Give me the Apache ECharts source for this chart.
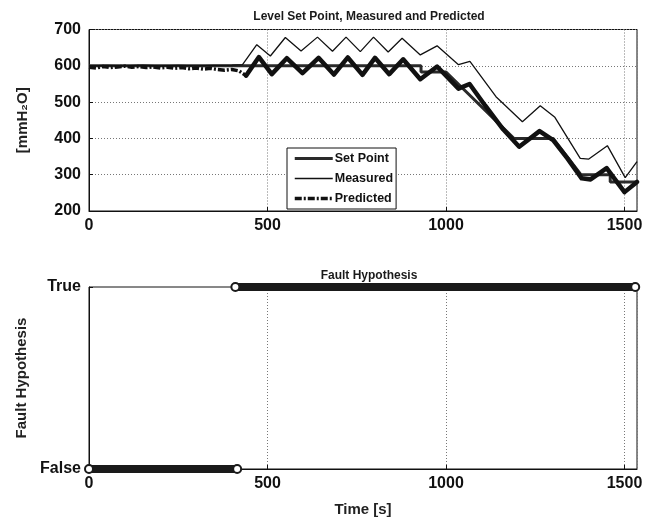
<!DOCTYPE html>
<html><head><meta charset="utf-8">
<script src="https://cdn.jsdelivr.net/npm/echarts@6/dist/echarts.min.js"></script>
<style>html,body{margin:0;padding:0;background:#fff}#c{width:661px;height:523px}</style>
</head><body><div id="c"></div>
<script>
// ---- data ----
const xTicks = [0, 500, 1000, 1500];
const levelTicks = [200, 300, 400, 500, 600, 700];
const faultTickLabels = ['False', 'True'];

const setPointT = [0, 930, 930, 1000, 1190, 1300, 1378, 1460, 1460, 1535];
const setPointV = [600, 600, 583, 583, 400, 400, 300, 300, 280, 280];

const measuredT = [0, 50, 100, 150, 200, 250, 300, 350, 400, 430, 470, 508, 550, 594, 640, 682, 720, 760, 797, 838, 877, 928, 975, 1035, 1067, 1140, 1214, 1264, 1305, 1376, 1400, 1452, 1502, 1535];
const measuredV = [600, 601, 600, 602, 600, 601, 600, 601, 602, 603, 658, 627, 678, 641, 679, 640, 679, 639, 679, 638, 676, 630, 655, 603, 612, 515, 446, 490, 458, 345, 343, 380, 292, 336];

const predictedT = [0, 20, 40, 60, 80, 100, 120, 140, 160, 180, 200, 220, 240, 260, 280, 300, 320, 340, 360, 380, 400, 420, 440, 476, 512, 554, 598, 643, 686, 725, 766, 801, 841, 880, 928, 975, 1035, 1066, 1110, 1160, 1205, 1262, 1300, 1340, 1380, 1405, 1450, 1500, 1535];
const predictedV = [596, 594, 598, 595, 597, 599, 596, 598, 595, 597, 594, 596, 593, 595, 592, 594, 591, 593, 590, 588, 590, 586, 573, 624, 577, 621, 580, 622, 576, 623, 575, 622, 577, 618, 563, 598, 537, 550, 490, 425, 377, 420, 395, 345, 290, 287, 318, 252, 280];

const faultFalseT = [0, 415];
const faultFalseV = [0, 0];
const faultTrueT = [410, 1530];
const faultTrueV = [1, 1];

const xMax = 1535;

// ---- build ----
const zip = (a, b) => a.map((t, i) => [t, b[i]]);
const predAll = zip(predictedT, predictedV);
const splitIdx = predictedT.indexOf(440);
const predEarly = predAll.slice(0, splitIdx + 1);   // drawn dash-dot
const predLate = predAll.slice(splitIdx);            // dense part, appears solid in reference

const FONT = 'Liberation Sans, Arial, Helvetica, sans-serif';
const lbl = {color: '#111', fontSize: 16, fontWeight: 'bold', fontFamily: FONT};
const nameStyle = {color: '#222', fontSize: 15, fontWeight: 'bold', fontFamily: FONT};
const gridLine = {show: true, lineStyle: {color: '#777', type: [1, 2], width: 1}};
const fmtX = v => String(v);

const chart = echarts.init(document.getElementById('c'), null, {renderer: 'canvas'});
chart.setOption({
  animation: false,
  backgroundColor: '#fff',
  title: [
    {text: 'Level Set Point, Measured and Predicted', left: 364, top: 6, textAlign: 'center',
     textStyle: {color: '#1a1a1a', fontSize: 12, fontWeight: 'bold', fontFamily: FONT}},
    {text: 'Fault Hypothesis', left: 364, top: 265, textAlign: 'center',
     textStyle: {color: '#1a1a1a', fontSize: 12, fontWeight: 'bold', fontFamily: FONT}}
  ],
  legend: {
    data: ['Set Point', 'Measured', 'Predicted'],
    orient: 'vertical', left: 287, top: 148,
    backgroundColor: '#fff', borderColor: '#111', borderWidth: 1,
    padding: [4, 3, 4, 6], itemWidth: 38, itemHeight: 10, itemGap: 7,
    itemStyle: {color: 'rgba(0,0,0,0)', borderColor: 'rgba(0,0,0,0)', borderWidth: 0},
    lineStyle: {width: 'inherit', type: 'inherit', color: 'inherit'},
    textStyle: {color: '#111', fontSize: 12.5, fontWeight: 'bold', fontFamily: FONT, padding: [0, 0, 0, -3]}
  },
  grid: [
    {left: 89, top: 29.5, width: 548, height: 181.5, show: true, borderColor: '#111', borderWidth: 1, backgroundColor: 'transparent'},
    {left: 89, top: 287, width: 548, height: 182, show: true, borderColor: '#111', borderWidth: 1, backgroundColor: 'transparent'}
  ],
  xAxis: [
    {type: 'value', gridIndex: 0, min: 0, max: xMax, interval: 500,
     axisLine: {lineStyle: {color: '#111'}}, axisTick: {inside: true, length: 4, lineStyle: {color: '#111'}},
     axisLabel: Object.assign({margin: 7, showMaxLabel: false, formatter: fmtX}, lbl),
     splitLine: gridLine},
    {type: 'value', gridIndex: 1, min: 0, max: xMax, interval: 500,
     axisLine: {lineStyle: {color: '#111'}}, axisTick: {inside: true, length: 4, lineStyle: {color: '#111'}},
     axisLabel: Object.assign({margin: 7, showMaxLabel: false, formatter: fmtX}, lbl),
     splitLine: gridLine,
     name: 'Time [s]', nameLocation: 'middle', nameGap: 33, nameTextStyle: nameStyle}
  ],
  yAxis: [
    {type: 'value', gridIndex: 0, min: levelTicks[0], max: levelTicks[levelTicks.length - 1], interval: 100,
     axisLine: {lineStyle: {color: '#111'}}, axisTick: {inside: true, length: 4, lineStyle: {color: '#111'}},
     axisLabel: Object.assign({margin: 8}, lbl),
     splitLine: gridLine,
     name: '[mmH₂O]', nameLocation: 'middle', nameGap: 59, nameRotate: 90, nameTextStyle: nameStyle},
    {type: 'value', gridIndex: 1, min: 0, max: 1, interval: 1,
     axisLine: {lineStyle: {color: '#111'}}, axisTick: {inside: true, length: 4, lineStyle: {color: '#111'}},
     axisLabel: Object.assign({margin: 8, formatter: v => faultTickLabels[v]}, lbl),
     splitLine: {show: false},
     name: 'Fault Hypothesis', nameLocation: 'middle', nameGap: 59, nameRotate: 90, nameTextStyle: nameStyle}
  ],
  series: [
    {name: 'Set Point', type: 'line', xAxisIndex: 0, yAxisIndex: 0, data: zip(setPointT, setPointV),
     symbol: 'none', lineStyle: {color: '#2a2a2a', width: 3}, itemStyle: {color: '#2a2a2a'}, z: 2},
    {name: 'Measured', type: 'line', xAxisIndex: 0, yAxisIndex: 0, data: zip(measuredT, measuredV),
     symbol: 'none', lineStyle: {color: '#111', width: 1.3}, itemStyle: {color: '#111'}, z: 3},
    {name: 'Predicted', type: 'line', xAxisIndex: 0, yAxisIndex: 0, data: predEarly,
     symbol: 'none', lineStyle: {color: '#111', width: 3.5, type: [7, 2, 2, 2]}, itemStyle: {color: '#111'}, z: 4},
    {type: 'line', xAxisIndex: 0, yAxisIndex: 0, data: predLate,
     symbol: 'none', lineStyle: {color: '#111', width: 4.5, join: 'round', cap: 'round'}, z: 4},
    {type: 'line', xAxisIndex: 1, yAxisIndex: 1, data: zip(faultFalseT, faultFalseV),
     symbol: 'emptyCircle', symbolSize: 8, showAllSymbol: true,
     lineStyle: {color: '#1a1a1a', width: 8}, itemStyle: {color: '#1a1a1a', borderWidth: 1.5}, z: 4},
    {type: 'line', xAxisIndex: 1, yAxisIndex: 1, data: zip(faultTrueT, faultTrueV),
     symbol: 'emptyCircle', symbolSize: 8, showAllSymbol: true,
     lineStyle: {color: '#1a1a1a', width: 8}, itemStyle: {color: '#1a1a1a', borderWidth: 1.5}, z: 4}
  ]
});
</script></body></html>
